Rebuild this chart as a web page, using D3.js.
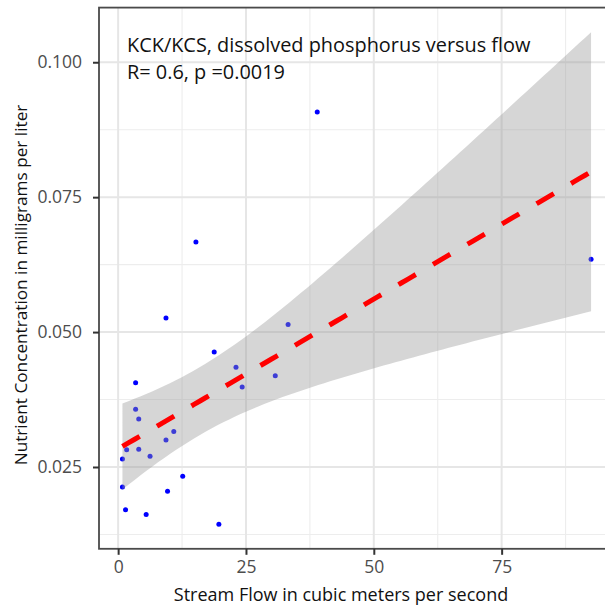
<!DOCTYPE html>
<html>
<head>
<meta charset="utf-8">
<script src="https://d3js.org/d3.v7.min.js"></script>
<style>
  body { margin: 0; background: #fff; }
  text { font-family: "Open Sans", "Noto Sans", sans-serif; }
</style>
</head>
<body>
<div id="my_dataviz"></div>
<script>
// stream flow (m3/s) and dissolved phosphorus (mg/L)
var flow = [38.94, 15.21, 92.49, 9.36, 33.24, 18.79, 23.05, 30.73, 24.26, 3.42, 3.42, 4.03,
            10.88, 9.36, 1.67, 4.03, 6.24, 0.84, 12.63, 0.84, 9.66, 1.45, 5.48, 19.70];
var phos = [0.0908, 0.0667, 0.0635, 0.0526, 0.0514, 0.0463, 0.0435, 0.0419, 0.0398, 0.0406, 0.0357, 0.0339,
            0.0316, 0.0300, 0.0282, 0.0283, 0.0270, 0.0265, 0.0233, 0.0213, 0.0205, 0.0171, 0.0162, 0.0144];

var xTicks = [0, 25, 50, 75];
var yTicks = [0.025, 0.050, 0.075, 0.100];
var xMinor = [12.5, 37.5, 62.5, 87.5];
var yMinor = [0.0125, 0.0375, 0.0625, 0.0875];

var titleLines = ["KCK/KCS, dissolved phosphorus versus flow", "R= 0.6, p =0.0019"];
var xTitle = "Stream Flow in cubic meters per second";
var yTitle = "Nutrient Concentration in milligrams per liter";

var width = 605, height = 611;
var panel = {left: 99, right: 614.5, top: 7.6, bottom: 548.8};

// linear fit with 95% confidence band, like geom_smooth(method = "lm")
var n = flow.length;
var mx = d3.mean(flow), my = d3.mean(phos);
var sxx = 0, sxy = 0;
for (let i = 0; i < n; i++) {
  sxx += (flow[i] - mx) * (flow[i] - mx);
  sxy += (flow[i] - mx) * (phos[i] - my);
}
var slope = sxy / sxx;
var icpt = my - slope * mx;
var sse = 0;
for (let i = 0; i < n; i++) {
  var r = phos[i] - (icpt + slope * flow[i]);
  sse += r * r;
}
var s = Math.sqrt(sse / (n - 2));
var tq = 2.0739; // qt(0.975, 22)

var fit = [];
var x0 = d3.min(flow), x1 = d3.max(flow);
for (let k = 0; k < 80; k++) {
  var xv = x0 + (x1 - x0) * k / 79;
  var yv = icpt + slope * xv;
  var se = s * Math.sqrt(1 / n + (xv - mx) * (xv - mx) / sxx);
  fit.push({x: xv, y: yv, lo: yv - tq * se, hi: yv + tq * se});
}

// scales with the usual 5% padding
var xr = [x0, x1];
var yr = [d3.min(phos.concat(fit.map(d => d.lo))), d3.max(phos.concat(fit.map(d => d.hi)))];
var x = d3.scaleLinear()
  .domain([xr[0] - 0.05 * (xr[1] - xr[0]), xr[1] + 0.05 * (xr[1] - xr[0])])
  .range([panel.left, panel.right]);
var y = d3.scaleLinear()
  .domain([yr[0] - 0.05 * (yr[1] - yr[0]), yr[1] + 0.05 * (yr[1] - yr[0])])
  .range([panel.bottom, panel.top]);

var svg = d3.select("#my_dataviz")
  .append("svg")
    .attr("width", width)
    .attr("height", height);

svg.append("rect").attr("width", width).attr("height", height).attr("fill", "#fff");

svg.append("clipPath").attr("id", "clip")
  .append("rect")
    .attr("x", panel.left).attr("y", panel.top)
    .attr("width", panel.right - panel.left).attr("height", panel.bottom - panel.top);

var plot = svg.append("g").attr("clip-path", "url(#clip)");

// grid lines
plot.selectAll(".vminor").data(xMinor).enter().append("line")
  .attr("x1", d => x(d)).attr("x2", d => x(d))
  .attr("y1", panel.top).attr("y2", panel.bottom)
  .attr("stroke", "#ededed").attr("stroke-width", 1.1);
plot.selectAll(".hminor").data(yMinor).enter().append("line")
  .attr("y1", d => y(d)).attr("y2", d => y(d))
  .attr("x1", panel.left).attr("x2", panel.right)
  .attr("stroke", "#ededed").attr("stroke-width", 1.1);
plot.selectAll(".vmajor").data(xTicks).enter().append("line")
  .attr("x1", d => x(d)).attr("x2", d => x(d))
  .attr("y1", panel.top).attr("y2", panel.bottom)
  .attr("stroke", "#e6e6e6").attr("stroke-width", 2);
plot.selectAll(".hmajor").data(yTicks).enter().append("line")
  .attr("y1", d => y(d)).attr("y2", d => y(d))
  .attr("x1", panel.left).attr("x2", panel.right)
  .attr("stroke", "#e6e6e6").attr("stroke-width", 2);

// points
plot.selectAll("circle")
  .data(flow)
  .enter()
  .append("circle")
    .attr("cx", d => x(d))
    .attr("cy", (d, i) => y(phos[i]))
    .attr("r", 2.5)
    .attr("fill", "#0000ff");

// confidence band over the points
plot.append("path")
  .datum(fit)
  .attr("d", d3.area().x(d => x(d.x)).y0(d => y(d.lo)).y1(d => y(d.hi)))
  .attr("fill", "#999999")
  .attr("fill-opacity", 0.4);

// fitted line
plot.append("path")
  .datum(fit)
  .attr("d", d3.line().x(d => x(d.x)).y(d => y(d.y)))
  .attr("fill", "none")
  .attr("stroke", "#ff0000")
  .attr("stroke-width", 5)
  .attr("stroke-dasharray", "20,20");

// panel border
svg.append("rect")
  .attr("x", panel.left).attr("y", panel.top)
  .attr("width", panel.right - panel.left).attr("height", panel.bottom - panel.top)
  .attr("fill", "none").attr("stroke", "#4a4a4a").attr("stroke-width", 1.8);

// annotation
svg.selectAll(".note").data(titleLines).enter().append("text")
  .attr("x", 127)
  .attr("y", (d, i) => 52 + i * 27)
  .attr("font-size", 19.9)
  .attr("fill", "#111")
  .text(d => d);

// axes: ticks and labels
var xAxis = svg.append("g")
  .attr("transform", "translate(0," + panel.bottom + ")")
  .call(d3.axisBottom(x).tickValues(xTicks).tickSize(6).tickPadding(6).tickFormat(d3.format("d")));
var yAxis = svg.append("g")
  .attr("transform", "translate(" + panel.left + ",0)")
  .call(d3.axisLeft(y).tickValues(yTicks).tickSize(6).tickPadding(11).tickFormat(d3.format(".3f")));
[xAxis, yAxis].forEach(function(a) {
  a.select(".domain").remove();
  a.selectAll(".tick line").attr("stroke", "#333").attr("stroke-width", 2);
  a.selectAll(".tick text")
    .attr("fill", "#4d4d4d")
    .attr("font-size", 17.5)
    .attr("font-family", "'Open Sans', sans-serif");
});

// axis titles
svg.append("text")
  .attr("x", 341).attr("y", 601)
  .attr("text-anchor", "middle")
  .attr("font-size", 18)
  .attr("fill", "#111")
  .text(xTitle);
svg.append("text")
  .attr("transform", "translate(27,285) rotate(-90)")
  .attr("text-anchor", "middle")
  .attr("font-size", 17.2)
  .attr("fill", "#111")
  .text(yTitle);
</script>
</body>
</html>
